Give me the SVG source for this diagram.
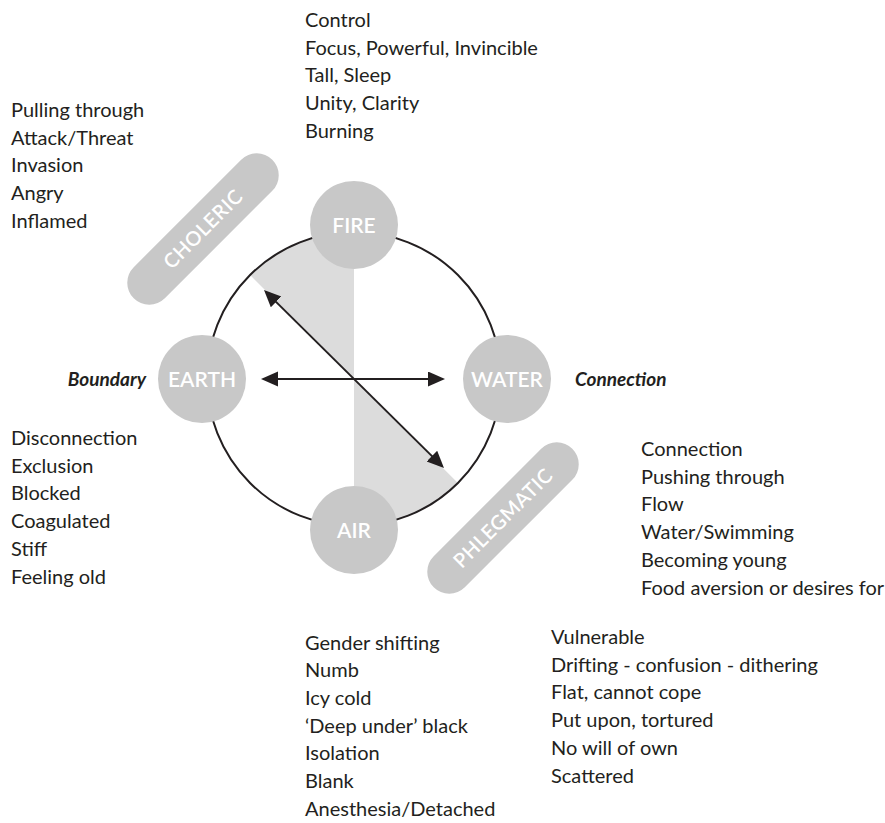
<svg xmlns="http://www.w3.org/2000/svg" width="885" height="823" viewBox="0 0 885 823">
<style>
.t{font-family:Lato,"Open Sans","Liberation Sans",sans-serif;font-size:20px;fill:#231f20}
.lbl{font-family:Lato,"Open Sans","Liberation Sans",sans-serif;font-size:19px;font-weight:bold;font-style:italic;fill:#231f20}
.node{fill:#c8c8c8}
.nt{font-family:Lato,"Open Sans","Liberation Sans",sans-serif;font-size:21px;font-weight:600;fill:#fff;text-anchor:middle}
.pill{fill:#c8c8c8}
.pt{font-family:Lato,"Open Sans","Liberation Sans",sans-serif;font-size:20px;font-weight:600;fill:#fff;text-anchor:middle;letter-spacing:0.5px}
.wedge{fill:#dcdcdc}
.ring{fill:none;stroke:#231f20;stroke-width:2}
.arr{stroke:#231f20;stroke-width:2;fill:none;marker-start:url(#ah);marker-end:url(#ah)}
</style>
<defs>
<marker id="ah" markerUnits="userSpaceOnUse" markerWidth="18" markerHeight="16" refX="9" refY="7.5" orient="auto-start-reverse" viewBox="0 0 18 16">
<path d="M0,0 L17,7.5 L0,15 Z" fill="#231f20"/>
</marker>
</defs>
<rect width="885" height="823" fill="#fff"/>

<g id="wedges">
<path class="wedge" d="M354,379 L354,232 A147,147 0 0 0 250.1,275.1 Z"/>
<path class="wedge" d="M354,379 L354,526 A147,147 0 0 0 457.9,482.9 Z"/>
</g>
<circle id="ring" class="ring" cx="354" cy="379" r="147"/>

<g id="connectors">
<line class="arr" x1="269" y1="379" x2="437" y2="379"/>
<line class="arr" x1="269.7" y1="295.6" x2="438.3" y2="462.4"/>
</g>

<g id="fire"><circle class="node" cx="354" cy="225" r="44"/><text class="nt" x="354" y="232.5">FIRE</text></g>
<g id="earth"><circle class="node" cx="202" cy="379" r="44"/><text class="nt" x="202" y="386.5">EARTH</text></g>
<g id="water"><circle class="node" cx="507" cy="379" r="44"/><text class="nt" x="507" y="386.5">WATER</text></g>
<g id="air"><circle class="node" cx="354" cy="530" r="44"/><text class="nt" x="354" y="537.5">AIR</text></g>

<g id="choleric" transform="translate(203,229) rotate(-45)">
<rect class="pill" x="-98" y="-22" width="196" height="44" rx="22"/>
<text class="pt" x="0" y="7">CHOLERIC</text>
</g>
<g id="phlegmatic" transform="translate(503,518) rotate(-45)">
<rect class="pill" x="-98" y="-22" width="196" height="44" rx="22"/>
<text class="pt" x="0" y="7">PHLEGMATIC</text>
</g>

<g id="boundary"><text class="lbl" x="146" y="386" text-anchor="end">Boundary</text></g>
<g id="connection-label"><text class="lbl" x="575" y="386">Connection</text></g>

<g id="fire-list" class="t">
<text class="t" x="305" y="27">Control</text>
<text class="t" x="305" y="54.7">Focus, Powerful, Invincible</text>
<text class="t" x="305" y="82.4">Tall, Sleep</text>
<text class="t" x="305" y="110.1">Unity, Clarity</text>
<text class="t" x="305" y="137.8">Burning</text>
</g>
<g id="choleric-list">
<text class="t" x="11" y="117">Pulling through</text>
<text class="t" x="11" y="144.7">Attack/Threat</text>
<text class="t" x="11" y="172.4">Invasion</text>
<text class="t" x="11" y="200.1">Angry</text>
<text class="t" x="11" y="227.8">Inflamed</text>
</g>
<g id="earth-list">
<text class="t" x="11" y="445">Disconnection</text>
<text class="t" x="11" y="472.7">Exclusion</text>
<text class="t" x="11" y="500.4">Blocked</text>
<text class="t" x="11" y="528.1">Coagulated</text>
<text class="t" x="11" y="555.8">Stiff</text>
<text class="t" x="11" y="583.5">Feeling old</text>
</g>
<g id="water-list">
<text class="t" x="641" y="456">Connection</text>
<text class="t" x="641" y="483.7">Pushing through</text>
<text class="t" x="641" y="511.4">Flow</text>
<text class="t" x="641" y="539.1">Water/Swimming</text>
<text class="t" x="641" y="566.8">Becoming young</text>
<text class="t" x="641" y="594.5">Food aversion or desires for</text>
</g>
<g id="phlegmatic-list">
<text class="t" x="551" y="644">Vulnerable</text>
<text class="t" x="551" y="671.7">Drifting - confusion - dithering</text>
<text class="t" x="551" y="699.4">Flat, cannot cope</text>
<text class="t" x="551" y="727.1">Put upon, tortured</text>
<text class="t" x="551" y="754.8">No will of own</text>
<text class="t" x="551" y="782.5">Scattered</text>
</g>
<g id="air-list">
<text class="t" x="305" y="649.5">Gender shifting</text>
<text class="t" x="305" y="677.2">Numb</text>
<text class="t" x="305" y="704.9">Icy cold</text>
<text class="t" x="305" y="732.6">‘Deep under’ black</text>
<text class="t" x="305" y="760.3">Isolation</text>
<text class="t" x="305" y="788">Blank</text>
<text class="t" x="305" y="815.7">Anesthesia/Detached</text>
</g>
</svg>
